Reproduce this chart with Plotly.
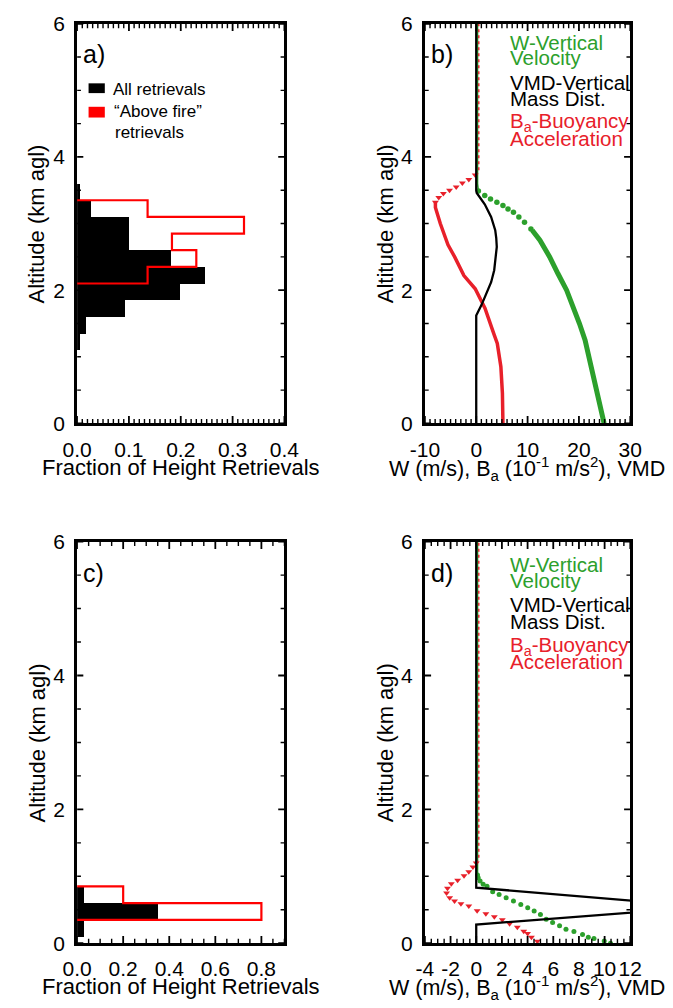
import plotly.graph_objects as go

W, H = 673, 1008
FONT = "Liberation Sans, Arial, sans-serif"

# ---------------- data ----------------
BIN_W = 0.25  # km
# panel a histograms (bin lower edges, km; fraction)
A_ALL_EDGES = [1.1, 1.35, 1.6, 1.85, 2.1, 2.35, 2.6, 2.85, 3.1, 3.35]
A_ALL_FRAC = [0.006, 0.0175, 0.0925, 0.199, 0.246, 0.182, 0.1, 0.1, 0.027, 0.006]
A_FIRE_EDGES = [2.1, 2.35, 2.6, 2.85, 3.1]
A_FIRE_FRAC = [0.136, 0.23, 0.183, 0.322, 0.136]
# panel c histograms
C_ALL_EDGES = [0.1, 0.35, 0.6]
C_ALL_FRAC = [0.03, 0.353, 0.03]
C_FIRE_EDGES = [0.35, 0.6]
C_FIRE_FRAC = [0.8, 0.2]

# panel b profiles (value, altitude km)
B_W_LINE_VAL = [24.9, 24.2, 23.5, 22.8, 22.1, 21.2, 20.1, 18.8, 17.6, 15.9, 14.3, 12.4, 10.9]
B_W_LINE_ALT = [0.0, 0.25, 0.5, 0.75, 1.0, 1.25, 1.5, 1.75, 2.0, 2.25, 2.5, 2.75, 2.9]
B_W_DOT_VAL = [10.65, 9.4, 8.3, 7.25, 6.19, 5.2, 4.02, 2.78, 1.66, 0.42]
B_W_DOT_ALT = [2.92, 3.02, 3.10, 3.17, 3.22, 3.27, 3.32, 3.37, 3.42, 3.49]
B_W_TOP_VAL = [0.42, 0.25, 0.25]
B_W_TOP_ALT = [3.49, 3.6, 6.0]

B_VMD_VAL = [0, 0, 1.04, 2.0, 2.9, 3.5, 3.83, 4.0, 3.9, 3.7, 2.9, 1.66, 0.1, 0, 0]
B_VMD_ALT = [0, 1.62, 1.78, 1.95, 2.12, 2.3, 2.5, 2.65, 2.78, 2.9, 3.1, 3.29, 3.46, 3.5, 6.0]

B_BA_LINE_VAL = [5.2, 5.1, 4.8, 4.1, 3.5, 1.7, -0.2, -2.4, -4.2, -5.5, -7.0, -7.95, -7.95]
B_BA_LINE_ALT = [0.0, 0.45, 0.85, 1.2, 1.33, 1.73, 2.02, 2.22, 2.5, 2.68, 3.0, 3.24, 3.32]
B_BA_DOT_VAL = [-7.95, -7.3, -6.4, -5.2, -3.9, -2.7, -1.44, -0.2]
B_BA_DOT_ALT = [3.32, 3.39, 3.45, 3.50, 3.55, 3.61, 3.66, 3.73]
B_BA_TOP_VAL = [-0.2, 0.5, 0.5]
B_BA_TOP_ALT = [3.73, 3.8, 6.0]

# panel d profiles
D_W_DOT_VAL = [10.46, 9.97, 9.17, 8.73, 8.28, 7.61, 6.99, 6.49, 5.95, 5.45, 5.0, 4.51,
               4.01, 3.47, 2.90, 2.33, 1.78, 1.28, 0.84, 0.54, 0.3, 0.15, 0.1]
D_W_DOT_ALT = [0.0, 0.034, 0.07, 0.09, 0.13, 0.175, 0.21, 0.26, 0.31, 0.36, 0.43, 0.48,
               0.53, 0.58, 0.63, 0.68, 0.73, 0.77, 0.85, 0.88, 0.93, 0.98, 1.02]
D_W_TOP_VAL = [0.1, 0.1]
D_W_TOP_ALT = [1.02, 6.0]

D_VMD_VAL = [0, 0, 17.9, 0, 0]
D_VMD_ALT = [0, 0.28, 0.545, 0.83, 6.0]

D_BA_DOT_VAL = [4.76, 4.3, 4.0, 3.7, 3.2, 2.6, 2.03, 1.41, 0.75, 0.07, -0.58, -1.19, -1.69,
                -2.07, -2.31, -2.24, -1.94, -1.45, -0.95, -0.58, -0.26, 0.0]
D_BA_DOT_ALT = [0.03, 0.09, 0.145, 0.18, 0.24, 0.29, 0.35, 0.395, 0.44, 0.485, 0.555, 0.59,
                0.63, 0.68, 0.75, 0.82, 0.89, 0.94, 1.01, 1.07, 1.14, 1.2]
D_BA_TOP_VAL = [0.0, 0.2, 0.2]
D_BA_TOP_ALT = [1.2, 1.25, 6.0]

# axis ticks
A_XTICKS = [0.0, 0.1, 0.2, 0.3, 0.4]
C_XTICKS = [0.0, 0.2, 0.4, 0.6, 0.8]
B_XTICKS = [-10, 0, 10, 20, 30]
D_XTICKS = [-4, -2, 0, 2, 4, 6, 8, 10, 12]
YTICKS = [0, 2, 4, 6]

# ---------------- styling helpers ----------------
GREEN = "#2ca02c"
RED_LINE = "#e8202a"
RED_HIST = "#ff0000"


def X(px):
    return px / W


def Y(py):
    return 1 - py / H


fig = go.Figure()


def hist(edges, vals, ax):
    centers = [e + BIN_W / 2 for e in edges]
    fig.add_trace(go.Bar(x=vals, y=centers, width=BIN_W, orientation="h",
                         marker=dict(color="black", line=dict(width=0)),
                         xaxis="x" + ax, yaxis="y" + ax, showlegend=False))


def outline(edges, vals, ax):
    xs, ys = [0], [edges[0]]
    for e, v in zip(edges, vals):
        xs += [v, v]
        ys += [e, e + BIN_W]
    xs.append(0)
    ys.append(edges[-1] + BIN_W)
    fig.add_trace(go.Scatter(x=xs, y=ys, mode="lines",
                             line=dict(color=RED_HIST, width=2.2),
                             xaxis="x" + ax, yaxis="y" + ax, showlegend=False))


def line(xv, yv, ax, color, width, dash="solid"):
    fig.add_trace(go.Scatter(x=xv, y=yv, mode="lines",
                             line=dict(color=color, width=width, dash=dash),
                             xaxis="x" + ax, yaxis="y" + ax, showlegend=False))


def dots(xv, yv, ax, color, symbol, size):
    fig.add_trace(go.Scatter(x=xv, y=yv, mode="markers",
                             marker=dict(color=color, symbol=symbol, size=size,
                                         line=dict(width=0)),
                             xaxis="x" + ax, yaxis="y" + ax, showlegend=False))


# panel a (axis "")
hist(A_ALL_EDGES, A_ALL_FRAC, "")
outline(A_FIRE_EDGES, A_FIRE_FRAC, "")
# panel c (axis 3)
hist(C_ALL_EDGES, C_ALL_FRAC, "3")
outline(C_FIRE_EDGES, C_FIRE_FRAC, "3")

# panel b (axis 2)
line(B_W_LINE_VAL, B_W_LINE_ALT, "2", GREEN, 5)
dots(B_W_DOT_VAL, B_W_DOT_ALT, "2", GREEN, "circle", 5.5)
line(B_W_TOP_VAL, B_W_TOP_ALT, "2", GREEN, 1.6)
line(B_BA_LINE_VAL, B_BA_LINE_ALT, "2", RED_LINE, 3.5)
dots(B_BA_DOT_VAL, B_BA_DOT_ALT, "2", RED_LINE, "triangle-down", 6)
line(B_BA_TOP_VAL, B_BA_TOP_ALT, "2", RED_LINE, 1.4, "dot")
line(B_VMD_VAL, B_VMD_ALT, "2", "black", 2.3)

# panel d (axis 4)
dots(D_W_DOT_VAL, D_W_DOT_ALT, "4", GREEN, "circle", 5)
line(D_W_TOP_VAL, D_W_TOP_ALT, "4", GREEN, 1.6)
dots(D_BA_DOT_VAL, D_BA_DOT_ALT, "4", RED_LINE, "triangle-down", 6)
line(D_BA_TOP_VAL, D_BA_TOP_ALT, "4", RED_LINE, 1.4, "dot")
line(D_VMD_VAL, D_VMD_ALT, "4", "black", 2.3)

# ---------------- axes ----------------
LEFT_A, RIGHT_A = 65, 282
LEFT_B, RIGHT_B = 429, 644
TOP_1, BOT_1 = 12, 421
TOP_2, BOT_2 = 542, 953

TICKFONT = dict(family=FONT, size=21, color="black")


def steps(lo, hi, step):
    n = int(round((hi - lo) / step))
    return [round(lo + i * step, 6) for i in range(n + 1)]


def base_axis():
    return dict(showline=True, linecolor="black", linewidth=3, mirror=True,
                ticks="", showgrid=False, zeroline=False, tickfont=TICKFONT,
                fixedrange=True, tickangle=0, layer="above traces")


def xaxis(l, r, anchor, rng, vals, texts):
    d = base_axis()
    d.update(domain=[X(l), X(r)], anchor=anchor, range=rng, tickmode="array",
             tickvals=vals, ticktext=texts, ticklabelstandoff=5)
    return d


def yaxis(t, b, anchor):
    d = base_axis()
    d.update(domain=[Y(b), Y(t)], anchor=anchor, range=[0, 6], tickmode="array",
             tickvals=YTICKS, ticktext=[str(v) for v in YTICKS], ticklabelstandoff=5)
    return d


fig.update_layout(
    xaxis=xaxis(LEFT_A, RIGHT_A, "y", [0, 0.4], A_XTICKS, [f"{v:.1f}" for v in A_XTICKS]),
    yaxis=yaxis(TOP_1, BOT_1, "x"),
    xaxis2=xaxis(LEFT_B, RIGHT_B, "y2", [-10, 30], B_XTICKS, [str(v) for v in B_XTICKS]),
    yaxis2=yaxis(TOP_1, BOT_1, "x2"),
    xaxis3=xaxis(LEFT_A, RIGHT_A, "y3", [0, 0.9], C_XTICKS, [f"{v:.1f}" for v in C_XTICKS]),
    yaxis3=yaxis(TOP_2, BOT_2, "x3"),
    xaxis4=xaxis(LEFT_B, RIGHT_B, "y4", [-4, 12], D_XTICKS, [str(v) for v in D_XTICKS]),
    yaxis4=yaxis(TOP_2, BOT_2, "x4"),
)


# ---------------- inside tick marks drawn as line traces (top/bottom, left/right) ----------------
# lengths in px measured from the frame centre line (frame is 3 px wide)
X_MAJ_LEN, X_MIN_LEN = 7.5, 4.5
Y_MAJ_LEN, Y_MIN_LEN = 6.5, 4.0


def tick_marks(ax, xrng, xmajor, xminor_step, left, right, top, bot):
    h_px = bot - top
    w_px = right - left
    ky = 6.0 / h_px                       # altitude units per pixel
    kx = (xrng[1] - xrng[0]) / w_px       # x units per pixel
    major_set = {round(v, 6) for v in xmajor}
    groups = {"major": ([], []), "minor": ([], [])}
    for v in steps(xrng[0], xrng[1], xminor_step):
        g = "major" if round(v, 6) in major_set else "minor"
        ln = X_MAJ_LEN if g == "major" else X_MIN_LEN
        xs, ys = groups[g]
        xs += [v, v, None, v, v, None]
        ys += [0, ln * ky, None, 6, 6 - ln * ky, None]
    for v in steps(0, 6, 0.5):
        g = "major" if v in YTICKS else "minor"
        ln = Y_MAJ_LEN if g == "major" else Y_MIN_LEN
        xs, ys = groups[g]
        xs += [xrng[0], xrng[0] + ln * kx, None, xrng[1], xrng[1] - ln * kx, None]
        ys += [v, v, None, v, v, None]
    for g, wd in [("major", 1.8), ("minor", 1.4)]:
        xs, ys = groups[g]
        fig.add_trace(go.Scatter(x=xs, y=ys, mode="lines", hoverinfo="skip",
                                 line=dict(color="black", width=wd),
                                 xaxis="x" + ax, yaxis="y" + ax, showlegend=False))


tick_marks("", [0, 0.4], A_XTICKS, 0.01, LEFT_A, RIGHT_A, TOP_1, BOT_1)
tick_marks("2", [-10, 30], B_XTICKS, 1, LEFT_B, RIGHT_B, TOP_1, BOT_1)
tick_marks("3", [0, 0.9], C_XTICKS, 0.05, LEFT_A, RIGHT_A, TOP_2, BOT_2)
tick_marks("4", [-4, 12], D_XTICKS, 0.5, LEFT_B, RIGHT_B, TOP_2, BOT_2)

# ---------------- annotations ----------------
ann = []


def text(s, px, py, size=20.5, color="black", xanchor="left", yanchor="middle", angle=0):
    ann.append(dict(text=s, x=X(px), y=Y(py), xref="paper", yref="paper",
                    xanchor=xanchor, yanchor=yanchor, showarrow=False, textangle=angle,
                    font=dict(family=FONT, size=size, color=color)))


# axis titles
YT = "Altitude (km agl)"
text(YT, 23, (TOP_1 + BOT_1) / 2, size=22, xanchor="center", angle=-90)
text(YT, 388, (TOP_1 + BOT_1) / 2, size=22, xanchor="center", angle=-90)
text(YT, 23, (TOP_2 + BOT_2) / 2, size=22, xanchor="center", angle=-90)
text(YT, 388, (TOP_2 + BOT_2) / 2, size=22, xanchor="center", angle=-90)
XT1 = "Fraction of Height Retrievals"
XT2 = "W (m/s), B<sub>a</sub> (10<sup>-1</sup> m/s<sup>2</sup>), VMD"
text(XT1, 173.5, 466, size=22, xanchor="center")
text(XT1, 173.5, 997, size=22, xanchor="center")
text(XT2, 536, 467, size=21.5, xanchor="center")
text(XT2, 536, 998, size=21.5, xanchor="center")

# panel labels
for lab, px, py in [("a)", 69, 43), ("b)", 433, 43), ("c)", 69, 574), ("d)", 433, 574)]:
    text(lab, px, py, size=25)

# panel a legend
text("All retrievals", 101, 79, size=17)
text("\u201cAbove fire\u201d", 102, 102, size=17)
text("retrievals", 103, 123, size=17)

# panel b / d legends
for top, offs in [(0, [31, 47, 72, 89, 113, 129]), (530, [35, 52, 76, 94, 119, 135])]:
    text("W-Vertical", 516, top + offs[0], color=GREEN)
    text("Velocity", 516, top + offs[1], color=GREEN)
    text("VMD-Vertical", 516, top + offs[2])
    text("Mass Dist.", 516, top + offs[3])
    text("B<sub>a</sub>-Buoyancy", 516, top + offs[4], color=RED_LINE)
    text("Acceleration", 516, top + offs[5], color=RED_LINE)

shapes = [
    dict(type="rect", xref="paper", yref="paper", x0=X(77), x1=X(94), y0=Y(83), y1=Y(73),
         fillcolor="black", line=dict(width=0)),
    dict(type="rect", xref="paper", yref="paper", x0=X(77), x1=X(94), y0=Y(108), y1=Y(97),
         fillcolor=RED_HIST, line=dict(width=0)),
]

fig.update_layout(
    width=W, height=H, margin=dict(l=0, r=0, t=0, b=0),
    paper_bgcolor="white", plot_bgcolor="white",
    annotations=ann, shapes=shapes, showlegend=False,
    font=dict(family=FONT, color="black"),
    bargap=0,
)

fig.write_html("out.html")
